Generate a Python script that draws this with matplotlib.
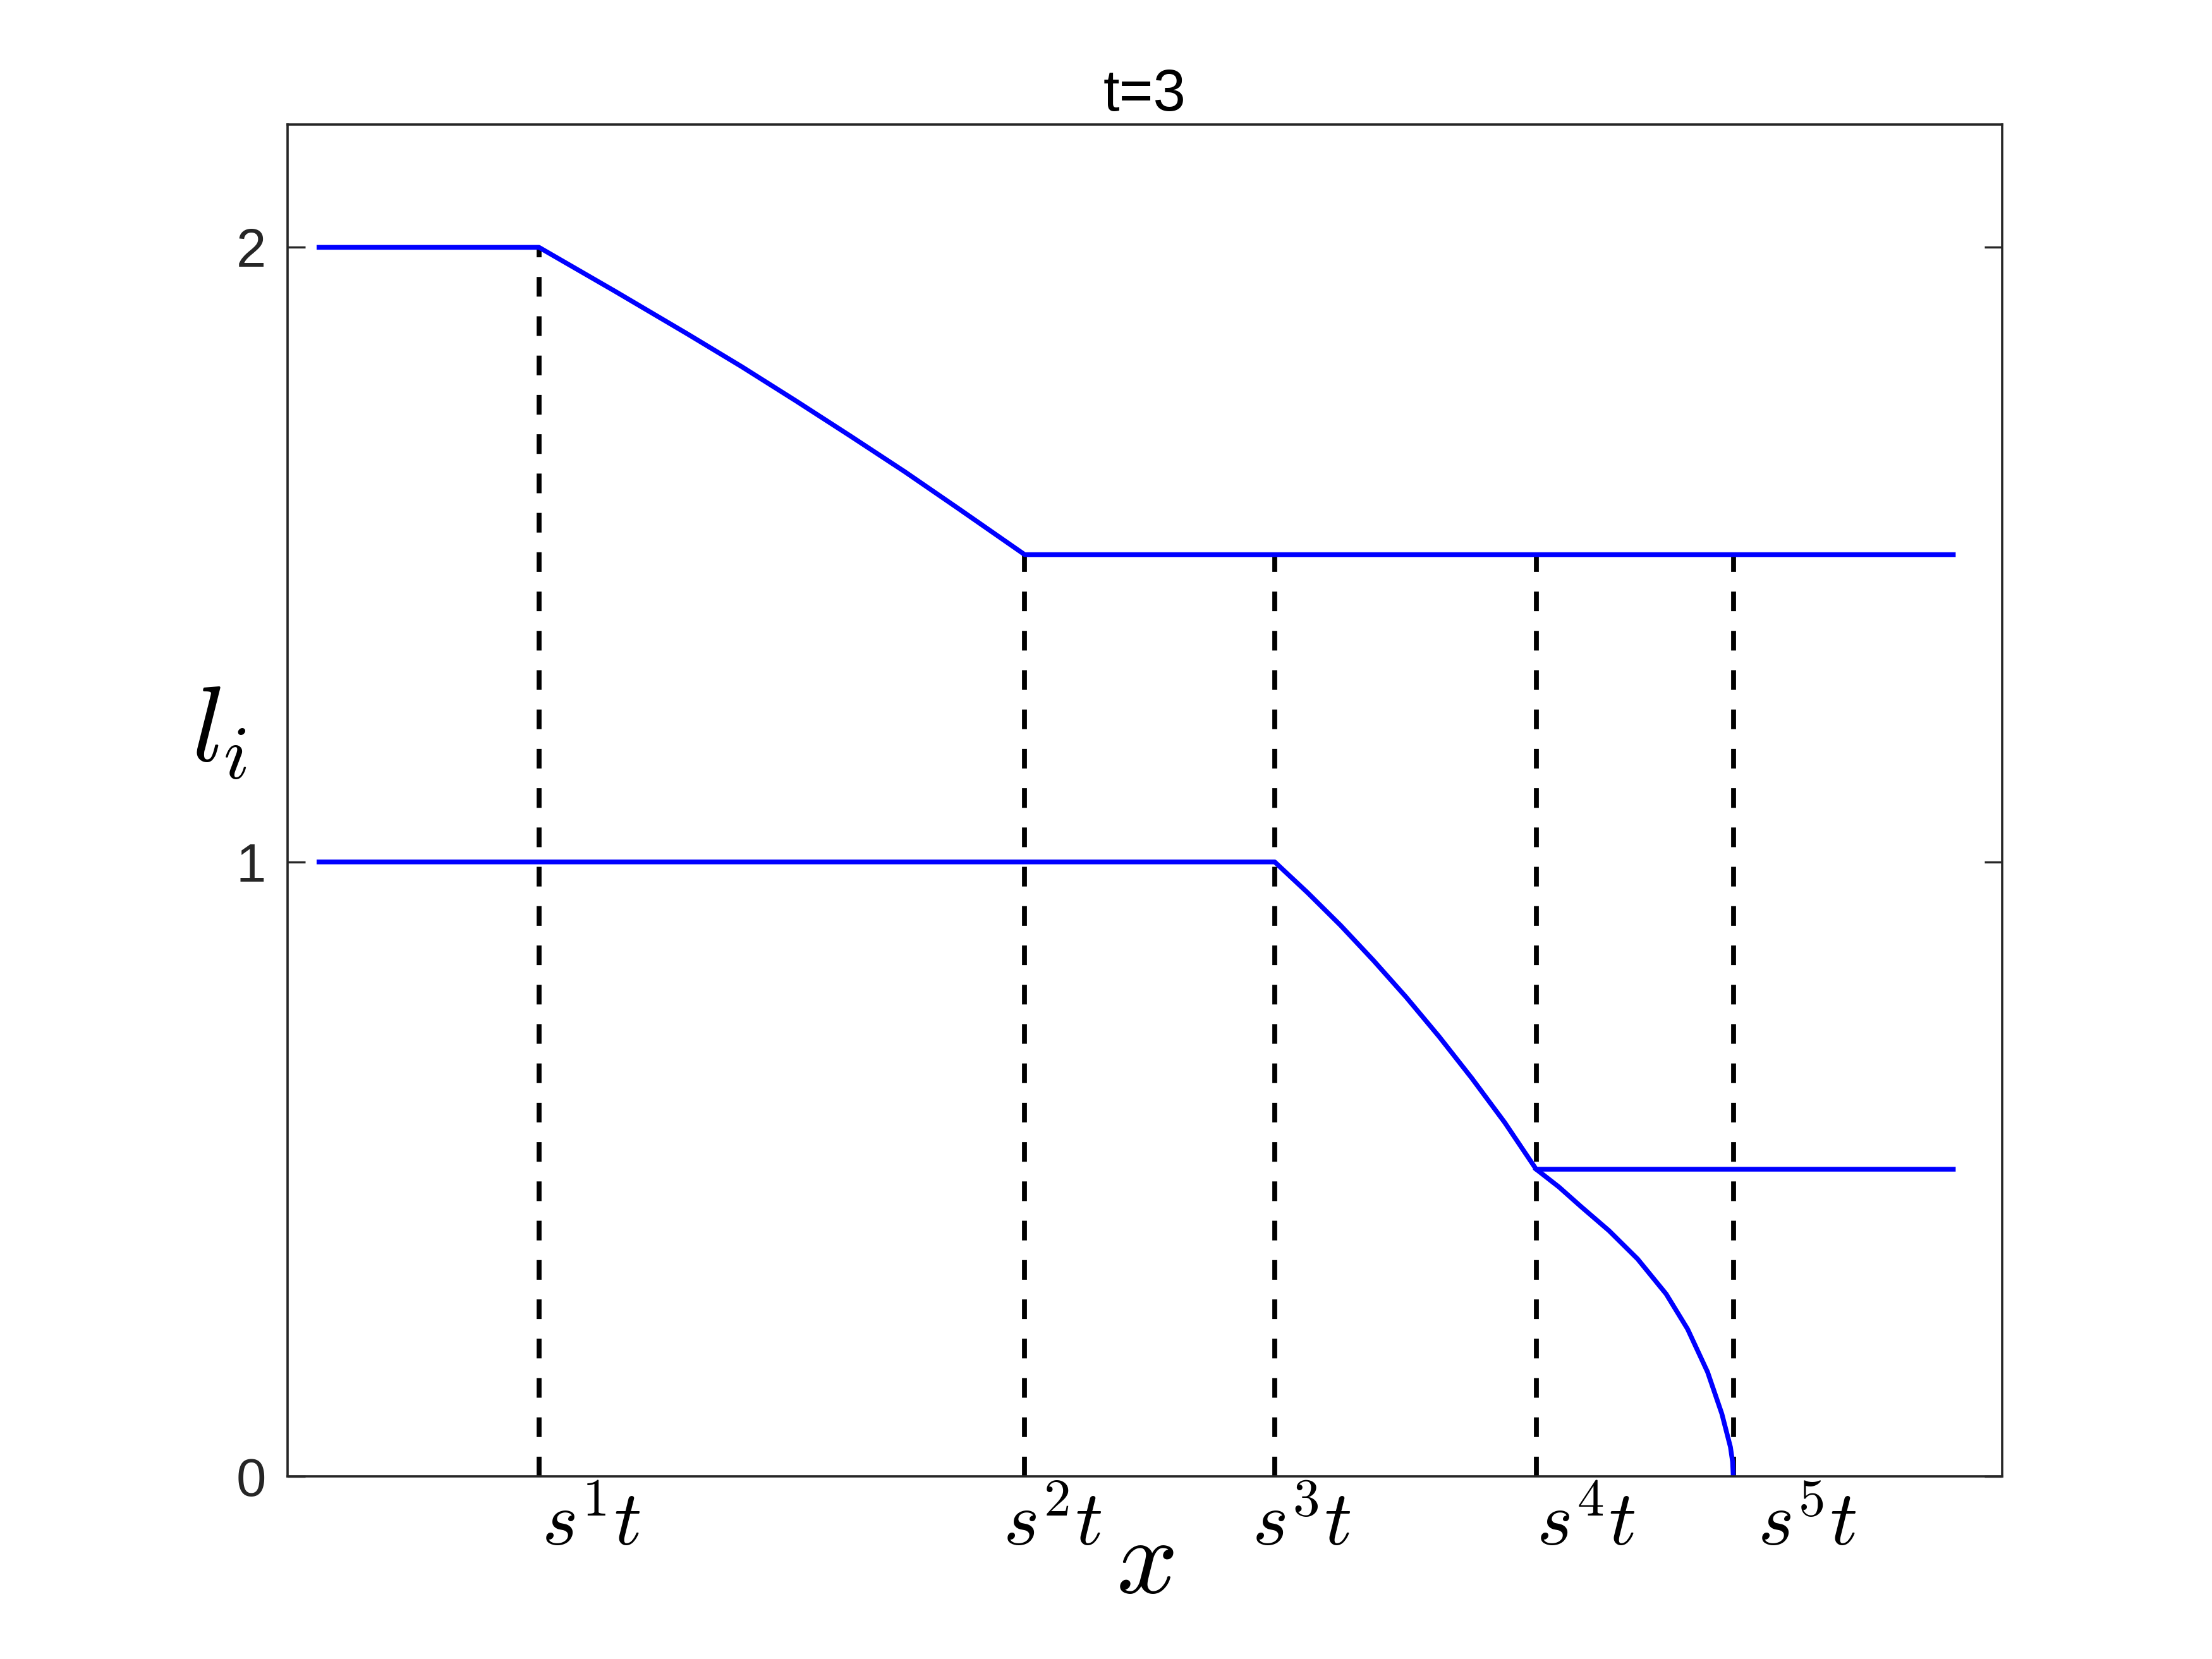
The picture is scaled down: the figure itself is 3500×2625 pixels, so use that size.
import matplotlib
matplotlib.use('Agg')
import matplotlib.pyplot as plt

plt.rcParams['font.family'] = ['Liberation Sans', 'DejaVu Sans']
plt.rcParams['mathtext.fontset'] = 'cm'

# данные
t_val = 3
shock_x = [-4.24, -0.84, 0.91, 2.74, 4.12]   # положения s^i t
shock_top = [2.0, 1.5, 1.5, 1.5, 1.5]        # до какой высоты идёт пунктир

layer1_x = [-5.78, -4.24, -3.711, -3.20, -2.822, -2.44, -2.06, -1.68, -1.298, -0.84, 5.66]
layer1_y = [2.0, 2.0, 1.929, 1.859, 1.806, 1.750, 1.693, 1.635, 1.574, 1.5, 1.5]

layer2_x = [-5.78, 0.91, 1.14, 1.37, 1.60, 1.83, 2.06, 2.29, 2.52, 2.74, 5.66]
layer2_y = [1.0, 1.0, 0.950, 0.897, 0.840, 0.780, 0.716, 0.648, 0.576, 0.5, 0.5]

layer3_x = [2.74, 2.90, 3.055, 3.25, 3.45, 3.65, 3.80, 3.94, 4.04, 4.10, 4.115, 4.12]
layer3_y = [0.5, 0.471, 0.439, 0.400, 0.354, 0.297, 0.240, 0.170, 0.102, 0.048, 0.024, 0.0]

label_x = [-4.22, -0.99, 0.75, 2.74, 4.29]
labels = ['$s^1t$', '$s^2t$', '$s^3t$', '$s^4t$', '$s^5t$']

fig = plt.figure(figsize=(10, 7.5), dpi=350)
ax = fig.add_axes([0.13, 0.11, 0.775, 0.815])

# пунктирные линии
for xs, top in zip(shock_x, shock_top):
    ax.plot([xs, xs], [0, top], color='black', lw=1.6, linestyle=(0, (4, 4)))

# слои
for xx, yy in [(layer1_x, layer1_y), (layer2_x, layer2_y), (layer3_x, layer3_y)]:
    ax.plot(xx, yy, color=(0, 0, 1), lw=1.55)

ax.set_xlim(-6, 6)
ax.set_ylim(0, 2.2)
ax.set_xticks([])
ax.set_yticks([0, 1, 2])
ax.tick_params(axis='y', direction='in', length=5.8, width=0.7, colors='#262626',
               labelsize=17.5, right=True, pad=7)
for sp in ax.spines.values():
    sp.set_color('#262626')
    sp.set_linewidth(0.75)

for lx, lab in zip(label_x, labels):
    ax.text(lx, -0.112, lab, fontsize=25, ha='left', va='baseline', clip_on=False)

ax.set_xlabel('$x$', fontsize=35)
ax.xaxis.set_label_coords(0.5, -0.065)
ax.xaxis.label.set_va('center')
ax.set_ylabel('$l_i$', fontsize=35, rotation=0)
ax.yaxis.set_label_coords(-0.04, 0.55)
ax.yaxis.label.set_va('center')
ax.yaxis.label.set_ha('center')

ax.set_title('t=' + str(t_val), fontsize=19, pad=4.5)

fig.savefig('out.png', dpi=350)
